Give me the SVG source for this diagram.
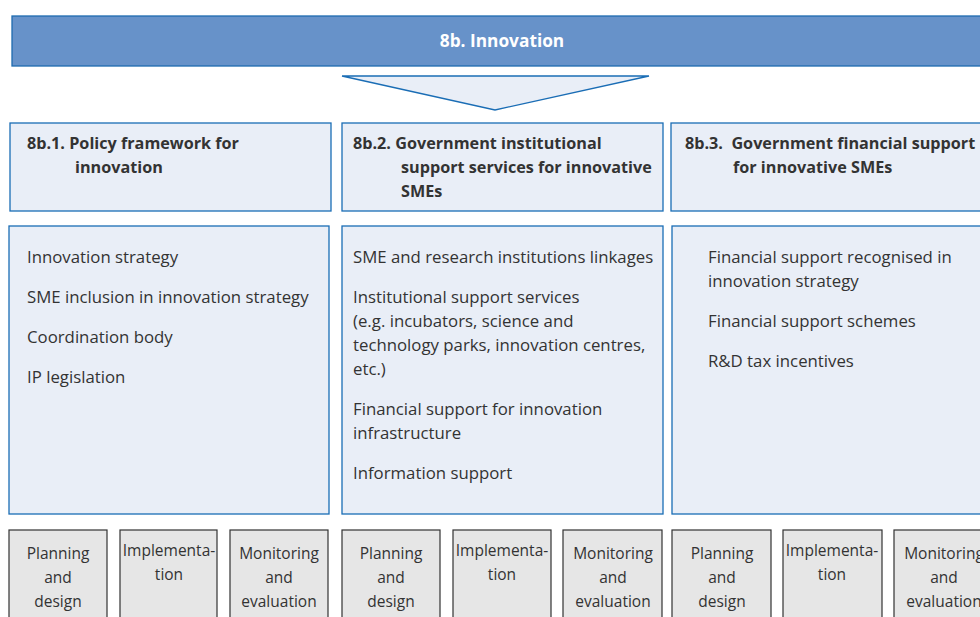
<svg xmlns="http://www.w3.org/2000/svg" width="980" height="617" viewBox="0 0 980 617">
<style>
.hdr{fill:#E9EEF7;stroke:#1A6DB5;stroke-width:1.3}
.cnt{fill:#E9EEF7;stroke:#1A6DB5;stroke-width:1.3}
.bot{fill:#E6E6E6;stroke:#333;stroke-width:1.2}
.ht{font-family:"Open Sans","Liberation Sans",sans-serif;font-weight:bold;font-size:16.2px;fill:#333}
.ct{font-family:"Open Sans","Liberation Sans",sans-serif;font-size:16.8px;fill:#333}
.bt{font-family:"Open Sans","Liberation Sans",sans-serif;font-size:15.5px;fill:#333;text-anchor:middle}
</style>
<g id="title">
<rect x="12" y="16" width="980" height="50" fill="#6792C9" stroke="#1E6BB0" stroke-width="1.3"/>
<text x="502" y="47" font-family="'Open Sans','Liberation Sans',sans-serif" font-weight="bold" font-size="17.3" fill="#fff" text-anchor="middle">8b. Innovation</text>
</g>
<g id="connectors">
<polygon points="342,76 649,76 495,110" fill="#E9EEF7" stroke="#1A6DB5" stroke-width="1.3"/>
</g>
<g id="h1"><rect class="hdr" x="10" y="123" width="321" height="88"/>
<text class="ht" x="27" y="149">8b.1. Policy framework for</text>
<text class="ht" x="75" y="173">innovation</text></g>
<g id="h2"><rect class="hdr" x="342" y="123" width="321" height="88"/>
<text class="ht" x="353" y="149">8b.2. Government institutional</text>
<text class="ht" x="401" y="173">support services for innovative</text>
<text class="ht" x="401" y="197">SMEs</text></g>
<g id="h3"><rect class="hdr" x="671" y="123" width="320" height="88"/>
<text class="ht" x="685" y="149" xml:space="preserve">8b.3.  Government financial support</text>
<text class="ht" x="733" y="173">for innovative SMEs</text></g>
<g id="c1"><rect class="cnt" x="9" y="226" width="320" height="288"/>
<text class="ct" x="27" y="263">Innovation strategy</text>
<text class="ct" x="27" y="303">SME inclusion in innovation strategy</text>
<text class="ct" x="27" y="343">Coordination body</text>
<text class="ct" x="27" y="383">IP legislation</text></g>
<g id="c2"><rect class="cnt" x="342" y="226" width="321" height="288"/>
<text class="ct" x="353" y="263">SME and research institutions linkages</text>
<text class="ct" x="353" y="303">Institutional support services</text>
<text class="ct" x="353" y="327">(e.g. incubators, science and</text>
<text class="ct" x="353" y="351">technology parks, innovation centres,</text>
<text class="ct" x="353" y="375">etc.)</text>
<text class="ct" x="353" y="415">Financial support for innovation</text>
<text class="ct" x="353" y="439">infrastructure</text>
<text class="ct" x="353" y="479">Information support</text></g>
<g id="c3"><rect class="cnt" x="672" y="226" width="320" height="288"/>
<text class="ct" x="708" y="263">Financial support recognised in</text>
<text class="ct" x="708" y="287">innovation strategy</text>
<text class="ct" x="708" y="327">Financial support schemes</text>
<text class="ct" x="708" y="367">R&amp;D tax incentives</text></g>
<g id="b1"><rect class="bot" x="9" y="530" width="98" height="100"/>
<text class="bt" x="58" y="559">Planning</text><text class="bt" x="58" y="583">and</text><text class="bt" x="58" y="607">design</text></g>
<g id="b2"><rect class="bot" x="120" y="530" width="97" height="100"/>
<text class="bt" x="169" y="556">Implementa-</text><text class="bt" x="169" y="580">tion</text></g>
<g id="b3"><rect class="bot" x="230" y="530" width="98" height="100"/>
<text class="bt" x="279" y="559">Monitoring</text><text class="bt" x="279" y="583">and</text><text class="bt" x="279" y="607">evaluation</text></g>
<g id="b4"><rect class="bot" x="342" y="530" width="98" height="100"/>
<text class="bt" x="391" y="559">Planning</text><text class="bt" x="391" y="583">and</text><text class="bt" x="391" y="607">design</text></g>
<g id="b5"><rect class="bot" x="453" y="530" width="98" height="100"/>
<text class="bt" x="502" y="556">Implementa-</text><text class="bt" x="502" y="580">tion</text></g>
<g id="b6"><rect class="bot" x="563" y="530" width="99" height="100"/>
<text class="bt" x="613" y="559">Monitoring</text><text class="bt" x="613" y="583">and</text><text class="bt" x="613" y="607">evaluation</text></g>
<g id="b7"><rect class="bot" x="672" y="530" width="99" height="100"/>
<text class="bt" x="722" y="559">Planning</text><text class="bt" x="722" y="583">and</text><text class="bt" x="722" y="607">design</text></g>
<g id="b8"><rect class="bot" x="783" y="530" width="99" height="100"/>
<text class="bt" x="832" y="556">Implementa-</text><text class="bt" x="832" y="580">tion</text></g>
<g id="b9"><rect class="bot" x="894" y="530" width="99" height="100"/>
<text class="bt" x="944" y="559">Monitoring</text><text class="bt" x="944" y="583">and</text><text class="bt" x="944" y="607">evaluation</text></g>
</svg>
